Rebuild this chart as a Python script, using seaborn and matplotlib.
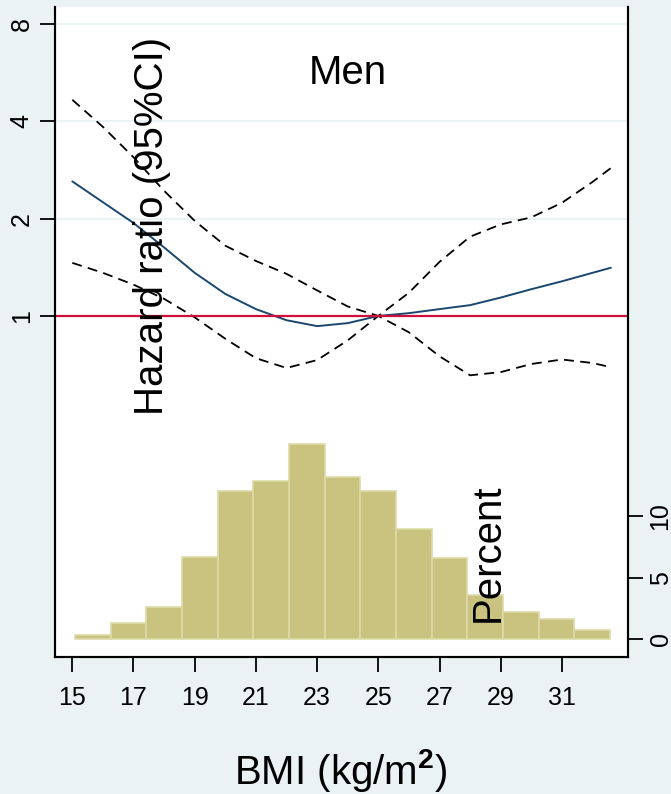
import numpy as np
import pandas as pd
import matplotlib
matplotlib.use("Agg")
import matplotlib.pyplot as plt
import matplotlib.ticker as mticker
import seaborn as sns

# ---------------- data ----------------
bmi = [15.0, 16.0, 17.0, 18.0, 19.0, 20.0, 21.0, 22.0, 23.0, 24.0, 25.0,
       26.0, 27.0, 28.0, 29.0, 30.0, 31.0, 32.0, 32.6]
hr = [2.61, 2.25, 1.94, 1.63, 1.36, 1.17, 1.05, 0.97, 0.93, 0.95, 1.00,
      1.02, 1.05, 1.08, 1.14, 1.21, 1.28, 1.36, 1.41]
ci_upper = [4.67, 3.85, 3.10, 2.44, 1.97, 1.65, 1.48, 1.35, 1.20, 1.07, 1.00,
            1.18, 1.47, 1.76, 1.92, 2.02, 2.24, 2.60, 2.87]
ci_lower = [1.46, 1.36, 1.25, 1.13, 0.99, 0.85, 0.74, 0.69, 0.73, 0.84, 1.00,
            0.89, 0.75, 0.655, 0.67, 0.71, 0.733, 0.715, 0.694]

bin_edges = [15.08, 16.25, 17.41, 18.58, 19.75, 20.91, 22.08, 23.25, 24.41,
             25.58, 26.75, 27.91, 29.08, 30.25, 31.41, 32.58]
percent = [0.35, 1.32, 2.58, 6.69, 12.04, 12.85, 15.83, 13.17, 12.04,
           8.98, 6.56, 3.63, 2.20, 1.64, 0.75]

x_ticks = [15, 17, 19, 21, 23, 25, 27, 29, 31]
hr_ticks = [1, 2, 4, 8]
pct_ticks = [0, 5, 10]

# ---------------- style ----------------
sns.set_theme(style="white")
plt.rcParams["font.family"] = ["Liberation Sans", "DejaVu Sans"]
plt.rcParams["text.color"] = "black"
plt.rcParams["xtick.color"] = "black"
plt.rcParams["ytick.color"] = "black"
plt.rcParams["mathtext.fontset"] = "custom"
plt.rcParams["mathtext.rm"] = "Liberation Sans"
plt.rcParams["mathtext.bf"] = "Liberation Sans:bold"

BG = "#EAF2F3"
NAVY = "#1A476F"
RED = "#D0103A"
FILL = "#C9C37F"
EDGE = "#DEDAA8"

fig = plt.figure(figsize=(6.71, 7.94), dpi=100, facecolor=BG)
ax = fig.add_axes([54.7 / 671, 1 - 656.7 / 794, (627.7 - 54.7) / 671, (656.7 - 6.5) / 794])
ax.set_facecolor("white")
ax2 = ax.twinx()

# histogram on right axis
centers = [(a + b) / 2 for a, b in zip(bin_edges[:-1], bin_edges[1:])]
hist_df = pd.DataFrame({"bmi": centers, "pct": percent})
sns.histplot(data=hist_df, x="bmi", weights="pct", bins=bin_edges, ax=ax2,
             color=FILL, edgecolor=EDGE, linewidth=1.2, alpha=1.0)

# curves on left (log) axis
curve_df = pd.DataFrame({"bmi": bmi, "hr": hr, "lo": ci_lower, "hi": ci_upper})
ax.set_yscale("log")
for col in ["hi", "lo"]:
    sns.lineplot(data=curve_df, x="bmi", y=col, ax=ax, color="black",
                 linewidth=1.3, linestyle=(0, (5.5, 3.5)))
sns.lineplot(data=curve_df, x="bmi", y="hr", ax=ax, color=NAVY, linewidth=1.4)
ax.axhline(1, color=RED, linewidth=1.6, zorder=3)
for t in hr_ticks[1:]:
    ax.axhline(t, color=BG, linewidth=1.5, zorder=0)

# limits
ax.set_xlim(14.425, 33.15)
ax.set_ylim(0.0881, 9.08)
ax2.set_ylim(-1.41, 51.3)

# ticks
ax.set_xticks(x_ticks)
ax.set_xticklabels([str(t) for t in x_ticks], fontsize=18)
ax.yaxis.set_major_locator(mticker.FixedLocator(hr_ticks))
ax.yaxis.set_minor_locator(mticker.NullLocator())
ax.set_yticklabels([str(t) for t in hr_ticks], fontsize=18, rotation=90, va="center")
ax2.set_yticks(pct_ticks)
ax2.set_yticklabels([str(t) for t in pct_ticks], fontsize=18, rotation=90, va="center")

for a in (ax, ax2):
    a.tick_params(axis="both", which="major", length=11, width=1.3, color="black",
                  labelcolor="black", direction="out")
ax.tick_params(axis="x", pad=10, bottom=True)
ax.tick_params(axis="y", pad=4, left=True)
ax2.tick_params(axis="y", pad=4, right=True)

for a in (ax, ax2):
    a.set_xlabel("")
    a.set_ylabel("")
    a.spines["top"].set_visible(False)
    for s in ("left", "right", "bottom"):
        a.spines[s].set_linewidth(1.5)
        a.spines[s].set_color("black")

# texts
W, H = 671, 794
fig.text(348 / W, 1 - 84 / H, "Men", fontsize=29, ha="center", va="baseline")
fig.text(163 / W, 1 - 226 / H, "Hazard ratio (95%CI)", fontsize=29, rotation=90,
         rotation_mode="anchor", ha="center", va="baseline")
fig.text(499 / W, 1 - 553 / H, "Percent", fontsize=29, rotation=90,
         rotation_mode="anchor", ha="center", va="baseline")
fig.text(341 / W, 1 - 784 / H, r"BMI (kg/m$^{\mathbf{2}}$)", fontsize=29,
         ha="center", va="baseline")

fig.savefig("out.png", dpi=100, facecolor=BG)
